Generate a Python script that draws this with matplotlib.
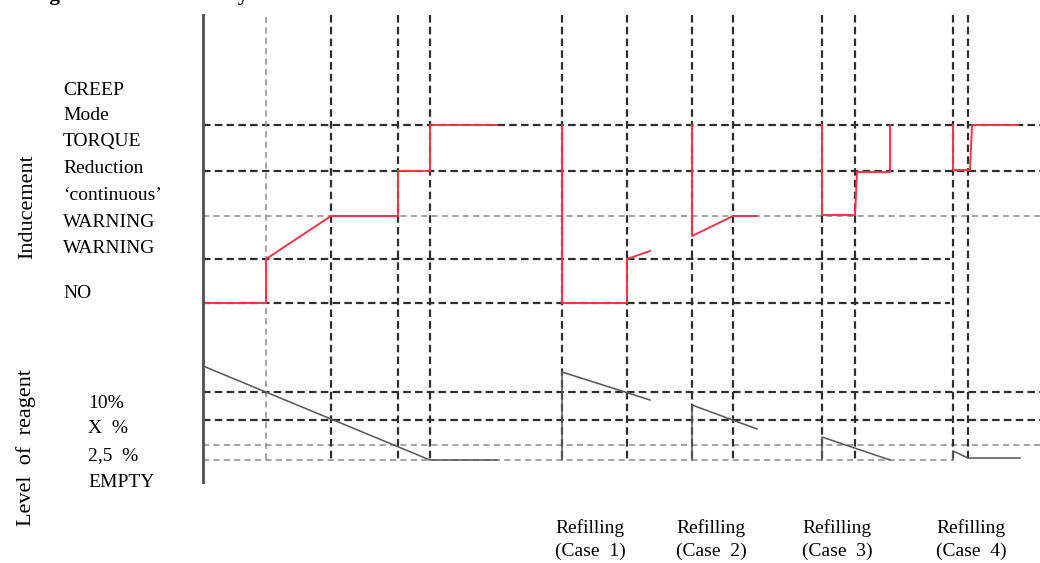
import matplotlib.pyplot as plt

# all values (horizontal = time, vertical = drawing position)
axis_x = 203
grid_top, grid_bottom = 15, 460

# vertical event lines
events_light = [266]
events_dark = [331, 398, 430, 562, 627, 692, 733, 822, 855, 953, 968]

# horizontal level lines: (y, x_start, x_end)
levels_dark = [(125, 203, 1040), (171, 203, 1040), (259, 203, 950), (303, 203, 950),
               (392, 203, 1040), (420, 203, 1040)]
levels_light = [(216, 203, 1040), (445, 203, 1040), (460, 203, 953)]

# inducement (red)
induce_x = [
    [203, 266, 266, 331, 398, 398, 430, 430, 497],
    [562, 562, 627, 627, 650],
    [692, 692, 733, 757],
    [822, 822, 855, 857, 890, 890],
    [953, 953, 970, 972, 1018],
]
induce_y = [
    [303, 303, 259, 216, 216, 171, 171, 125, 125],
    [125, 303, 303, 259, 251],
    [125, 236, 216, 216],
    [125, 215, 215, 172, 172, 125],
    [125, 170, 170, 125, 125],
]

# reagent level (grey)
reagent_x = [
    [203, 430, 497],
    [562, 562, 650],
    [692, 692, 757],
    [822, 822, 890],
    [953, 953, 968, 975, 1020],
]
reagent_y = [
    [366, 460, 460],
    [460, 372, 400],
    [460, 405, 429],
    [460, 437, 460],
    [460, 451, 458, 458, 458],
]

induce_labels = ["CREEP", "Mode", "TORQUE", "Reduction", "\u2018continuous\u2019",
                 "WARNING", "WARNING", "NO"]
induce_label_y = [95, 120, 146, 173, 200, 227, 253, 298]
reagent_labels = ["10%", "X  %", "2,5  %", "EMPTY"]
reagent_label_y = [408, 433, 460, 487]
refill_cases = ["(Case  1)", "(Case  2)", "(Case  3)", "(Case  4)"]
refill_x = [590, 711, 837, 971]

plt.rcParams["font.family"] = ["Liberation Serif", "DejaVu Serif"]

fig = plt.figure(figsize=(10.4, 5.63), dpi=100)
ax = fig.add_axes([0, 0, 1, 1])
ax.set_xlim(0, 1040)
ax.set_ylim(563, 0)
ax.axis("off")

dark = dict(color="#2e2e2e", lw=1.6, dashes=(3.4, 1.9))
light = dict(color="#8c8c8c", lw=1.1, dashes=(4.0, 2.8))

for y, x0, x1 in levels_dark:
    ax.plot([x0, x1], [y, y], **dark)
for y, x0, x1 in levels_light:
    ax.plot([x0, x1], [y, y], **light)
for x in events_dark:
    ax.plot([x, x], [grid_top, grid_bottom], **dark)
for x in events_light:
    ax.plot([x, x], [grid_top + 2, grid_bottom], **light)

for xs, ys in zip(reagent_x, reagent_y):
    ax.plot(xs, ys, color="#5a5a5a", lw=1.15)
for xs, ys in zip(induce_x, induce_y):
    ax.plot(xs, ys, color="#f0364a", lw=1.4)

ax.plot([axis_x, axis_x], [grid_top, 482], color="#555555", lw=2.1)

for lab, y in zip(induce_labels, induce_label_y):
    ax.text(63, y, lab, fontsize=14, va="baseline", ha="left")
for lab, y in zip(reagent_labels, reagent_label_y):
    ax.text(88, y, lab, fontsize=14, va="baseline", ha="left")
for lab, x in zip(refill_cases, refill_x):
    ax.text(x, 533, "Refilling", fontsize=14, va="baseline", ha="center")
    ax.text(x, 556, lab, fontsize=14, va="baseline", ha="center")

ax.text(28, 207, "Inducement", fontsize=16, rotation=90, va="center", ha="center")
ax.text(26, 448, "Level  of  reagent", fontsize=16, rotation=90, va="center", ha="center")

# title cut off at the top edge, only descenders show
ax.text(31, 0, "Figure 4: Inducement system", fontsize=15, fontweight="bold",
        va="baseline", ha="left")

plt.savefig("out.png", dpi=100)
